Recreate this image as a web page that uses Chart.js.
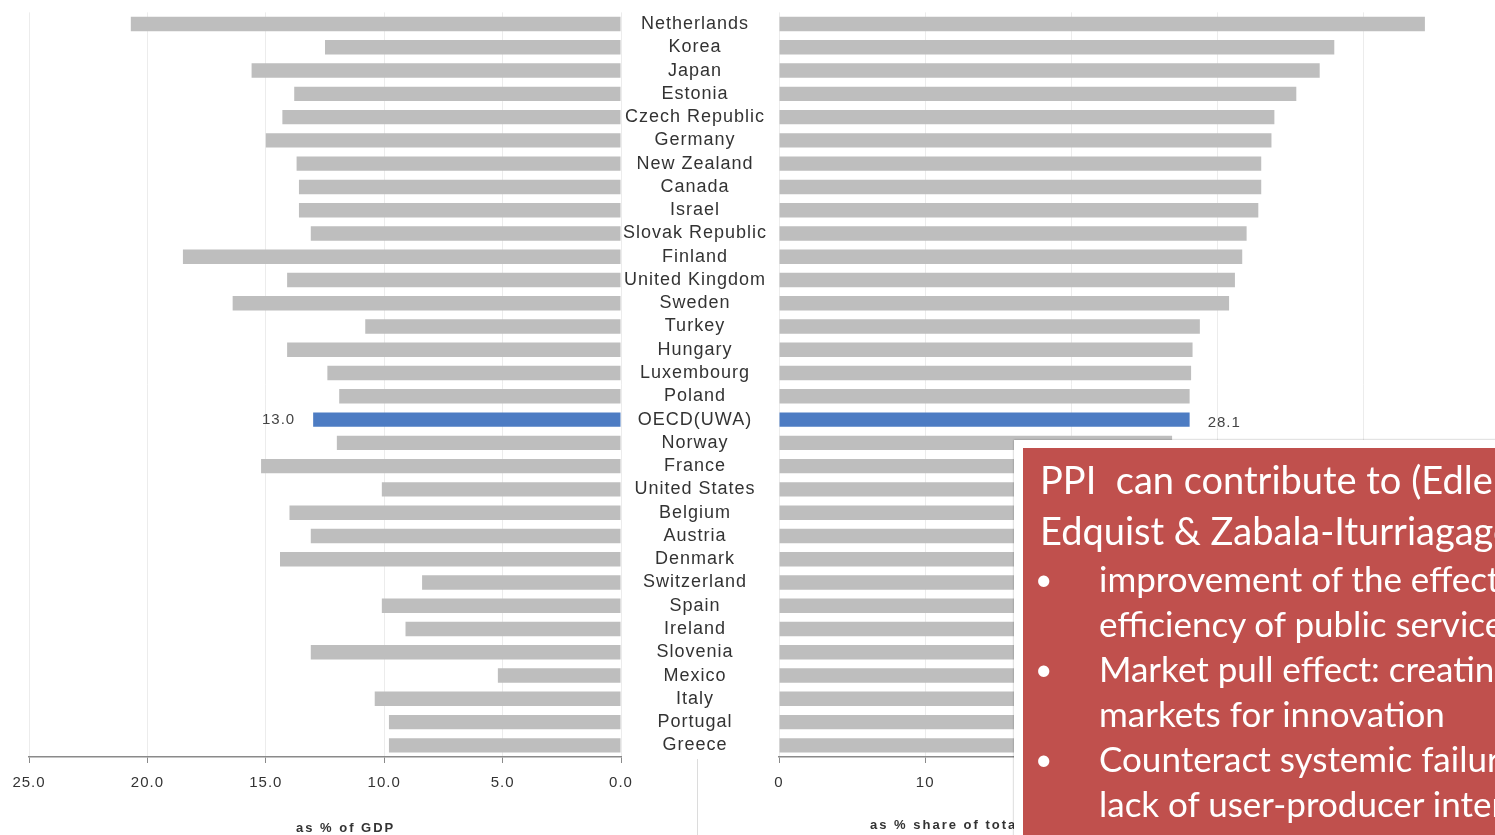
<!DOCTYPE html>
<html>
<head>
<meta charset="utf-8">
<script src="https://cdn.jsdelivr.net/npm/chart.js@4/dist/chart.umd.min.js"></script>
<style>
  html, body { margin: 0; padding: 0; width: 1495px; height: 835px; overflow: hidden; background: #fff; }
  canvas { position: absolute; top: 0; }
  #left { left: 0; }
  #right { left: 620px; }
  .axis-title { position: absolute; font-family: "Liberation Sans", Arial, sans-serif; font-weight: bold; font-size: 13px; letter-spacing: 2px; color: #333; white-space: nowrap; }
  #sep { position: absolute; left: 697px; top: 759px; width: 1px; height: 76px; background: #dcdcdc; }
  #note { position: absolute; left: 1014px; top: 440px; width: 700px; height: 420px; background: #fff; box-shadow: 0 0 2px rgba(0,0,0,0.35); }
  #note .inner { position: absolute; left: 9px; top: 8px; right: 0; bottom: 0; background: #C0504D; color: #fff; font-family: Lato, "Open Sans", sans-serif; }
  #note .line { white-space: pre; }
  #note .head { position: absolute; left: 17px; top: 6px; font-size: 38px; line-height: 51px; }
  #note .bul { position: absolute; left: 14px; top: 108px; font-size: 35px; line-height: 45px; }
  #note .bul .line { position: relative; padding-left: 62px; }
  #note .bul .dot { position: absolute; left: -2px; font-size: 30px; }
</style>
</head>
<body>
<canvas id="left" width="640" height="835"></canvas>
<canvas id="right" width="910" height="835"></canvas>
<div class="axis-title" style="left:296px; top:820px;">as % of GDP</div>
<div class="axis-title" style="left:870px; top:817px;">as % share of total government expenditure</div>
<div id="sep"></div>
<div id="note"><div class="inner">
  <div class="head">
    <div class="line">PPI  can contribute to (Edler &amp; Georghiou 2007;</div>
    <div class="line">Edquist &amp; Zabala-Iturriagagoitia 2012):</div>
  </div>
  <div class="bul">
    <div class="line"><span class="dot">•</span>improvement of the effectiveness and</div>
    <div class="line">efficiency of public services</div>
    <div class="line"><span class="dot">•</span>Market pull effect: creating new</div>
    <div class="line">markets for innovation</div>
    <div class="line"><span class="dot">•</span>Counteract systemic failures such as</div>
    <div class="line">lack of user-producer interaction</div>
  </div>
</div></div>
<script>
// Countries, ordered by procurement as a share of government expenditure
const countries = ['Netherlands', 'Korea', 'Japan', 'Estonia', 'Czech Republic', 'Germany',
  'New Zealand', 'Canada', 'Israel', 'Slovak Republic', 'Finland', 'United Kingdom', 'Sweden',
  'Turkey', 'Hungary', 'Luxembourg', 'Poland', 'OECD(UWA)', 'Norway', 'France', 'United States',
  'Belgium', 'Austria', 'Denmark', 'Switzerland', 'Spain', 'Ireland', 'Slovenia', 'Mexico',
  'Italy', 'Portugal', 'Greece'];

// General government procurement, % of GDP
const pctGdp = [20.7, 12.5, 15.6, 13.8, 14.3, 15.0, 13.7, 13.6, 13.6, 13.1, 18.5, 14.1, 16.4,
  10.8, 14.1, 12.4, 11.9, 13.0, 12.0, 15.2, 10.1, 14.0, 13.1, 14.4, 8.4, 10.1, 9.1, 13.1, 5.2,
  10.4, 9.8, 9.8];

// General government procurement, % share of total government expenditure
const pctGovExp = [44.2, 38.0, 37.0, 35.4, 33.9, 33.7, 33.0, 33.0, 32.8, 32.0, 31.7, 31.2, 30.8,
  28.8, 28.3, 28.2, 28.1, 28.1, 26.9, 26.4, 25.9, 25.1, 24.6, 24.0, 23.5, 23.0, 22.3, 21.8, 21.0,
  20.2, 19.3, 17.5];

const leftTicks = [0, 5, 10, 15, 20, 25];
const rightTicks = [0, 10, 20, 30, 40, 50];
const highlight = 'OECD(UWA)';

const GREY = '#BEBEBE';
const BLUE = '#4D7CC3';
const barColors = countries.map(c => c === highlight ? BLUE : GREY);

// Wide-set text, as in the spreadsheet export
const spacing = {
  id: 'spacing',
  beforeLayout(chart) { chart.ctx.letterSpacing = '1px'; },
  beforeDraw(chart) { chart.ctx.letterSpacing = '1px'; }
};

// Value label next to the highlighted bar
function valueLabel(side, digits) {
  return {
    id: 'valueLabel',
    afterDatasetsDraw(chart) {
      const i = countries.indexOf(highlight);
      const bar = chart.getDatasetMeta(0).data[i];
      const v = chart.data.datasets[0].data[i];
      const ctx = chart.ctx;
      ctx.save();
      ctx.letterSpacing = '1px';
      ctx.font = '15px "Liberation Sans", Arial, sans-serif';
      ctx.fillStyle = '#444';
      ctx.textBaseline = 'middle';
      if (side === 'left') {
        ctx.textAlign = 'right';
        ctx.fillText(v.toFixed(digits), bar.x - 18, bar.y);
      } else {
        ctx.textAlign = 'left';
        ctx.fillText(v.toFixed(digits), bar.x + 18, bar.y + 3);
      }
      ctx.restore();
    }
  };
}

const tickFont = { family: '"Liberation Sans", Arial, sans-serif', size: 15 };

function xAxis(ticks, fmt, reverse) {
  return {
    type: 'linear',
    position: 'bottom',
    min: ticks[0],
    max: ticks[ticks.length - 1],
    reverse: reverse,
    afterBuildTicks(scale) { scale.ticks = ticks.map(v => ({ value: v })); },
    afterFit(scale) { scale.height = 78; },
    ticks: { font: tickFont, color: '#333', padding: 11, maxRotation: 0, callback: fmt },
    grid: { color: '#ececec', tickColor: '#8a8a8a', tickLength: 6, lineWidth: 1 },
    border: { color: '#8a8a8a', width: 1.5 }
  };
}

const common = {
  responsive: false,
  animation: false,
  indexAxis: 'y',
  plugins: { legend: { display: false }, tooltip: { enabled: false } },
  datasets: { bar: { categoryPercentage: 1, barPercentage: 0.62 } }
};

new Chart(document.getElementById('left'), {
  type: 'bar',
  data: { labels: countries, datasets: [{ data: pctGdp, backgroundColor: barColors }] },
  options: Object.assign({}, common, {
    layout: { padding: { top: 12.4, bottom: 0, left: 29, right: 19 } },
    scales: {
      x: xAxis(leftTicks, v => Number(v).toFixed(1), true),
      y: { display: false }
    }
  }),
  plugins: [spacing, valueLabel('left', 1)]
});

new Chart(document.getElementById('right'), {
  type: 'bar',
  data: { labels: countries, datasets: [{ data: pctGovExp, backgroundColor: barColors }] },
  options: Object.assign({}, common, {
    layout: { padding: { top: 12.4, bottom: 0, left: 0, right: 12.5 } },
    scales: {
      x: xAxis(rightTicks, v => String(v), false),
      y: {
        type: 'category',
        position: 'left',
        afterFit(scale) { scale.width = 159; },
        grid: { display: false, drawTicks: true, tickLength: 12 },
        border: { display: false },
        ticks: {
          autoSkip: false,
          crossAlign: 'center',
          padding: 0,
          color: '#333',
          font: { family: '"Liberation Sans", Arial, sans-serif', size: 18 }
        }
      }
    }
  }),
  plugins: [spacing, valueLabel('right', 1)]
});
</script>
</body>
</html>
